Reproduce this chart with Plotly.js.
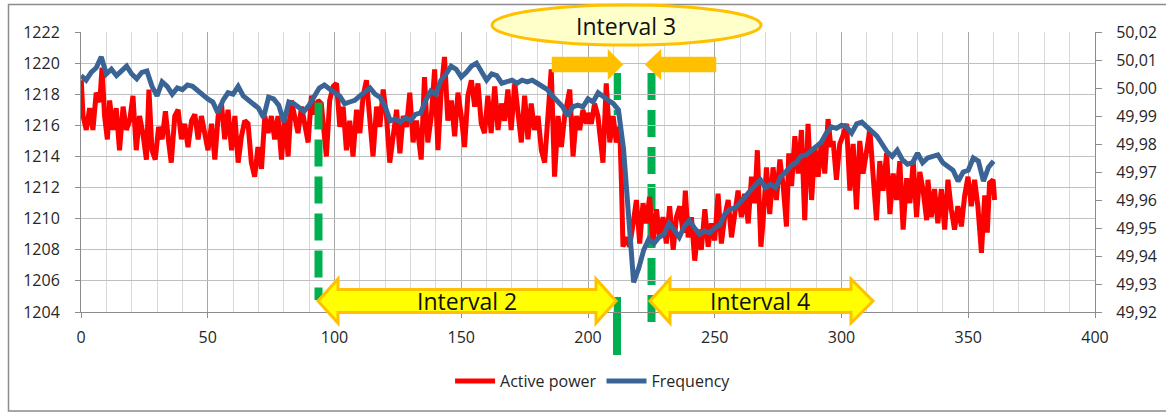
<!DOCTYPE html>
<html><head><meta charset="utf-8">
<script src="https://cdn.plot.ly/plotly-3.0.1.min.js"></script>
<style>html,body{margin:0;padding:0;background:#fff;overflow:hidden}#chart{width:1166px;height:414px}</style>
</head><body><div id="chart"></div>
<script>
// ---------------- DATA ----------------
const seriesNames = ['Active power', 'Frequency'];

const powerX = [
  0.1,0.8,2.1,3.4,4.7,6.0,7.4,8.3,9.3,10.4,11.3,12.6,13.9,15.2,16.6,17.9,19.2,20.5,21.8,23.1,
  24.4,25.8,26.8,28.0,29.3,30.6,32.0,33.3,34.6,35.6,37.0,38.3,39.6,40.9,42.2,43.6,44.9,46.2,47.5,48.8,
  50.1,51.5,52.8,54.1,55.4,56.7,58.0,59.4,60.7,62.0,63.3,64.6,65.9,67.2,68.5,69.8,71.2,72.5,73.8,75.1,
  76.4,77.7,79.1,80.4,81.7,83.0,84.3,85.6,87.0,88.3,89.6,90.9,92.2,93.5,94.8,96.8,98.1,99.5,100.8,102.1,
  103.4,104.7,106.0,107.3,108.7,110.0,111.3,112.6,113.9,115.2,116.6,117.9,119.2,120.5,121.8,123.1,124.5,125.8,127.1,128.4,
  129.7,131.0,132.3,134.2,135.5,136.8,138.2,139.5,140.8,142.1,143.4,144.7,146.1,147.4,148.7,150.0,151.3,152.6,154.0,155.3,
  156.6,157.9,159.2,160.5,161.8,163.2,164.5,165.8,167.1,168.4,169.7,171.1,172.4,173.7,175.0,176.3,177.6,178.9,180.3,181.6,
  182.9,184.2,185.5,186.8,188.2,189.5,190.8,192.8,194.1,195.4,196.7,198.0,199.3,200.0,201.3,202.6,203.9,205.9,207.2,208.6,
  209.9,211.2,212.5,213.2,213.8,215.1,216.4,217.8,219.1,220.4,221.7,223.0,224.3,225.7,227.0,228.3,229.6,230.9,232.2,233.6,
  234.9,236.2,237.5,238.4,239.5,240.8,242.1,243.4,244.7,246.1,247.4,248.7,250.0,251.3,252.6,253.9,255.3,256.6,257.9,259.2,
  260.5,261.8,263.2,264.5,265.8,266.8,268.2,269.1,270.4,271.7,273.0,274.3,275.7,277.0,278.3,279.2,280.3,281.6,282.9,284.2,
  285.5,286.8,288.2,289.5,290.8,292.1,293.4,294.7,295.8,296.7,298.0,299.3,300.7,302.0,303.3,304.6,305.9,307.2,308.5,309.9,
  311.2,312.5,313.8,315.1,316.4,317.8,319.1,320.4,321.7,323.0,324.3,325.7,327.0,328.3,329.6,330.9,332.2,333.6,334.1,335.4,
  336.7,338.0,339.4,340.7,342.0,343.3,344.6,345.9,347.3,348.6,349.9,351.2,352.5,353.8,355.2,356.5,357.5,358.4,359.8,360.4
];
const powerVals = [
  1218.9,1216.6,1215.7,1217.1,1215.7,1218.1,1217.5,1219.7,1216.6,1215.1,1217.6,1215.7,1217.1,1214.4,1217.2,1215.7,1216.3,1217.9,1214.4,1216.6,
  1215.5,1213.8,1218.3,1214.4,1213.8,1215.9,1215.1,1216.9,1214.9,1213.6,1216.6,1217.0,1215.1,1216.1,1214.6,1216.3,1216.7,1215.1,1216.6,1215.3,
  1214.4,1216.1,1213.8,1216.6,1217.4,1215.1,1217.0,1214.4,1216.6,1213.6,1215.3,1216.3,1216.1,1213.6,1212.7,1214.6,1213.2,1216.6,1215.5,1216.6,
  1215.1,1216.6,1213.8,1216.7,1214.0,1217.6,1216.6,1215.5,1217.2,1215.9,1214.9,1217.9,1216.7,1217.6,1217.4,1214.0,1217.6,1218.5,1218.7,1215.9,
  1217.2,1214.4,1216.3,1214.0,1217.0,1215.5,1217.9,1218.9,1216.1,1214.0,1217.2,1215.9,1218.3,1216.6,1213.6,1215.5,1217.0,1214.2,1216.6,1215.9,
  1218.1,1214.9,1216.3,1213.8,1219.1,1214.9,1216.6,1219.6,1214.4,1218.3,1220.4,1216.3,1217.6,1215.3,1218.1,1216.6,1214.6,1217.9,1218.9,1217.2,
  1218.7,1216.1,1215.5,1217.9,1215.5,1218.5,1215.7,1217.4,1216.3,1218.3,1215.7,1218.7,1216.6,1214.9,1217.9,1215.1,1217.4,1215.7,1216.6,1214.4,
  1213.6,1217.0,1219.6,1212.7,1216.6,1214.6,1216.6,1218.3,1214.0,1216.6,1215.7,1217.0,1216.1,1216.8,1216.1,1217.4,1216.6,1213.6,1218.7,1214.9,
  1216.6,1214.9,1215.9,1212.3,1208.2,1208.8,1208.2,1209.7,1211.2,1208.4,1211.0,1209.7,1211.4,1208.4,1210.6,1208.8,1210.1,1208.4,1210.8,1208.0,
  1210.1,1210.8,1209.1,1211.8,1208.8,1210.1,1207.3,1209.3,1208.0,1210.6,1208.2,1209.7,1208.6,1211.6,1208.4,1210.1,1211.2,1208.8,1210.6,1211.8,
  1210.1,1211.6,1209.7,1212.7,1211.0,1214.4,1208.2,1209.9,1213.3,1210.3,1213.3,1211.2,1213.8,1212.1,1209.5,1214.2,1212.1,1215.3,1212.9,1215.7,
  1209.9,1216.1,1211.2,1214.6,1212.7,1215.0,1212.9,1216.4,1214.6,1215.0,1212.5,1214.8,1215.4,1216.1,1211.8,1214.8,1210.6,1215.0,1212.9,1214.2,
  1215.7,1212.7,1209.9,1213.7,1211.8,1214.2,1210.3,1212.9,1211.2,1213.7,1209.3,1212.6,1211.0,1213.7,1210.1,1213.0,1211.8,1209.9,1212.5,1210.1,
  1211.9,1209.7,1211.9,1209.3,1212.5,1210.6,1209.3,1210.8,1209.5,1211.5,1212.7,1210.8,1212.5,1210.8,1207.8,1211.5,1209.1,1212.3,1212.5,1211.2
];

const freqX = [
  0,2,4,6,8,10,12,14,16,18,20,22,24,26,28,30,32,34,36,38,
  40,42,44,46,48,50,52,54,56,58,60,62,64,66,68,70,72,74,76,78,
  80,82,84,86,88,90,92,94,96,98,100,102,104,106,108,110,112,114,116,118,
  120,122,124,126,128,130,132,134,136,138,140,142,144,146,148,150,152,154,156,158,
  160,162,164,166,168,170,172,174,176,178,180,182,184,186,188,190,192,194,196,198,
  200,202,204,206,208,210,212,214,216,218,220,222,224,226,228,230,232,234,236,238,
  240,242,244,246,248,250,252,254,256,258,260,262,264,266,268,270,272,274,276,278,
  280,282,284,286,288,290,292,294,296,298,300,302,304,306,308,310,312,314,316,318,
  320,322,324,326,328,330,332,334,336,338,340,342,344,346,348,350,352,354,356,358,
  360
];
const freqVals = [
  50.0044,50.0028,50.0056,50.0072,50.0111,50.0050,50.0067,50.0044,50.0061,50.0078,50.0050,50.0033,50.0056,50.0061,50.0006,49.9972,50.0022,50.0006,49.9978,50.0000,
  49.9994,50.0011,50.0006,49.9989,49.9972,49.9961,49.9950,49.9911,49.9956,49.9983,49.9978,50.0006,49.9972,49.9956,49.9944,49.9928,49.9894,49.9967,49.9961,49.9939,
  49.9878,49.9950,49.9944,49.9933,49.9917,49.9939,49.9967,50.0000,50.0011,49.9994,49.9983,49.9972,49.9944,49.9950,49.9956,49.9972,49.9989,50.0000,49.9978,49.9967,
  49.9933,49.9883,49.9889,49.9878,49.9894,49.9883,49.9906,49.9911,49.9956,49.9989,49.9978,50.0028,50.0050,50.0078,50.0067,50.0039,50.0056,50.0078,50.0089,50.0061,
  50.0028,50.0050,50.0044,50.0017,50.0022,50.0028,50.0017,50.0028,50.0022,50.0028,50.0017,50.0006,49.9994,49.9972,49.9950,49.9933,49.9900,49.9933,49.9939,49.9933,
  49.9961,49.9950,49.9983,49.9967,49.9956,49.9944,49.9922,49.9783,49.9522,49.9306,49.9356,49.9422,49.9461,49.9444,49.9467,49.9478,49.9517,49.9489,49.9467,49.9506,
  49.9528,49.9500,49.9478,49.9489,49.9483,49.9500,49.9511,49.9550,49.9567,49.9572,49.9589,49.9611,49.9633,49.9656,49.9672,49.9644,49.9656,49.9644,49.9683,49.9700,
  49.9722,49.9733,49.9756,49.9761,49.9778,49.9789,49.9806,49.9839,49.9861,49.9856,49.9867,49.9861,49.9839,49.9872,49.9878,49.9861,49.9844,49.9828,49.9800,49.9772,
  49.9756,49.9778,49.9744,49.9728,49.9733,49.9767,49.9733,49.9750,49.9756,49.9761,49.9733,49.9717,49.9706,49.9667,49.9700,49.9706,49.9750,49.9739,49.9667,49.9717,
  49.9739
];

const xTickVals = [0, 50, 100, 150, 200, 250, 300, 350, 400];
const leftTickVals = [1204, 1206, 1208, 1210, 1212, 1214, 1216, 1218, 1220, 1222];
const rightTickVals = [49.92, 49.93, 49.94, 49.95, 49.96, 49.97, 49.98, 49.99, 50.00, 50.01, 50.02];
const rightTickText = ['49,92','49,93','49,94','49,95','49,96','49,97','49,98','49,99','50,00','50,01','50,02'];
const intervalLabels = ['Interval 2', 'Interval 3', 'Interval 4'];

// ---------------- LAYOUT HELPERS ----------------
// plot area: x px 81..1095, y px 32..312
const PX = px => (px - 81) / 2.535;       // pixel -> x data
const PY = py => (312 - py) / 280;        // pixel -> paper y

const FONT = 'Open Sans, Noto Sans, DejaVu Sans, sans-serif';
const GREEN = '#00B050', ORANGE = '#FFC000', YELLOW = '#FFFF00';

function dblArrow(leftTip, leftHeadEnd, rightHeadStart, rightTip, cy, headH, bodyH) {
  const a = PX(leftTip), b = PX(leftHeadEnd), c = PX(rightHeadStart), d = PX(rightTip);
  const m = PY(cy), ht = PY(cy - headH), hb = PY(cy + headH), bt = PY(cy - bodyH), bb = PY(cy + bodyH);
  return `M${a},${m} L${b},${ht} L${b},${bt} L${c},${bt} L${c},${ht} L${d},${m} L${c},${hb} L${c},${bb} L${b},${bb} L${b},${hb} Z`;
}
function arrowRight(start, headStart, tip, cy, headH, bodyH) {
  const a = PX(start), b = PX(headStart), c = PX(tip);
  return `M${a},${PY(cy-bodyH)} L${b},${PY(cy-bodyH)} L${b},${PY(cy-headH)} L${c},${PY(cy)} L${b},${PY(cy+headH)} L${b},${PY(cy+bodyH)} L${a},${PY(cy+bodyH)} Z`;
}
function arrowLeft(tip, headEnd, end, cy, headH, bodyH) {
  const a = PX(tip), b = PX(headEnd), c = PX(end);
  return `M${a},${PY(cy)} L${b},${PY(cy-headH)} L${b},${PY(cy-bodyH)} L${c},${PY(cy-bodyH)} L${c},${PY(cy+bodyH)} L${b},${PY(cy+bodyH)} L${b},${PY(cy+headH)} Z`;
}
function vseg(px, py0, py1, dash, layer) {
  return {type:'line', xref:'x', yref:'paper', x0:PX(px), x1:PX(px), y0:PY(py0), y1:PY(py1),
          line:{color:GREEN, width:8, dash: dash || 'solid'}, layer: layer || 'below'};
}

const shapes = [
  // outer frame
  {type:'rect', xref:'paper', yref:'paper', x0:(8.5-81)/1014, x1:(1175-81)/1014, y0:PY(411), y1:PY(4.5),
   line:{color:'#8C8C8C', width:1.5}, fillcolor:'rgba(0,0,0,0)', layer:'below'},
  // green dashed markers
  vseg(318.5, 102.5, 300, '27px,10px', 'above'),
  vseg(617, 73, 100), vseg(617, 110, 115), vseg(617, 297, 355),
  vseg(651.5, 73, 323, '27px,10px', 'below'),
  // yellow interval arrows
  {type:'path', xref:'x', yref:'paper', path: dblArrow(318, 338, 596, 616, 301, 22, 11.5),
   fillcolor:YELLOW, line:{color:ORANGE, width:3}, layer:'above'},
  {type:'path', xref:'x', yref:'paper', path: dblArrow(650, 670, 851, 873, 301, 22, 11.5),
   fillcolor:YELLOW, line:{color:ORANGE, width:3}, layer:'above'},
  // orange interval 3 arrows
  {type:'path', xref:'x', yref:'paper', path: arrowRight(552, 608, 623, 64.5, 15, 7.5),
   fillcolor:ORANGE, line:{color:ORANGE, width:0.5}, layer:'above'},
  {type:'path', xref:'x', yref:'paper', path: arrowLeft(645, 661, 716, 64.5, 15, 7.5),
   fillcolor:ORANGE, line:{color:ORANGE, width:0.5}, layer:'above'},
  // ellipse
  {type:'circle', xref:'x', yref:'paper', x0:PX(492), x1:PX(761), y0:PY(45), y1:PY(5),
   fillcolor:'#FFFFC9', line:{color:ORANGE, width:3}, layer:'above'}
];

const annFont = {family: FONT, size: 23, color: '#111111'};
const annotations = [
  {xref:'x', yref:'paper', x:PX(467), y:PY(301), text:intervalLabels[0], showarrow:false, font:annFont, xanchor:'center', yanchor:'middle'},
  {xref:'x', yref:'paper', x:PX(626), y:PY(26), text:intervalLabels[1], showarrow:false, font:annFont, xanchor:'center', yanchor:'middle'},
  {xref:'x', yref:'paper', x:PX(760), y:PY(301), text:intervalLabels[2], showarrow:false, font:annFont, xanchor:'center', yanchor:'middle'}
];

const tickFont = {family: FONT, size: 16, color: '#262626'};
const axisLine = '#8C8C8C';

const traces = [
  {x: powerX, y: powerVals, type:'scatter', mode:'lines', name: seriesNames[0],
   line:{color:'#FF0000', width:5}, yaxis:'y'},
  {x: freqX, y: freqVals, type:'scatter', mode:'lines', name: seriesNames[1],
   line:{color:'#3B6496', width:5}, yaxis:'y2'}
];

const layout = {
  width: 1166, height: 414,
  margin: {l:81, r:71, t:32, b:102, autoexpand:false},
  paper_bgcolor:'#ffffff', plot_bgcolor:'#ffffff',
  showlegend: true,
  legend: {orientation:'h', x:0.505, xanchor:'center', y:PY(381), yanchor:'middle',
           font:{family:FONT, size:16, color:'#262626'}, bgcolor:'rgba(0,0,0,0)', itemwidth:40, tracegroupgap:0},
  xaxis: {range:[0,400], tickvals:xTickVals, showgrid:true, gridcolor:'#A6A6A6', gridwidth:1,
          minor:{dtick:10, showgrid:true, gridcolor:'#D9D9D9', gridwidth:1, ticks:''},
          showline:true, linecolor:axisLine, linewidth:1, ticks:'outside', ticklen:5, tickcolor:axisLine,
          tickfont:tickFont, zeroline:false, ticklabelstandoff:6, fixedrange:true},
  yaxis: {range:[1204,1222], tickvals:leftTickVals, showgrid:true, gridcolor:'#BFBFBF', gridwidth:1,
          showline:true, linecolor:axisLine, linewidth:1, ticks:'outside', ticklen:5, tickcolor:axisLine,
          tickfont:tickFont, zeroline:false, ticklabelstandoff:12, fixedrange:true},
  yaxis2: {range:[49.92,50.02], overlaying:'y', side:'right', tickvals:rightTickVals, ticktext:rightTickText,
           showgrid:false, showline:true, linecolor:axisLine, linewidth:1, ticks:'outside', ticklen:6, tickcolor:axisLine,
           tickfont:tickFont, zeroline:false, ticklabelstandoff:11, fixedrange:true},
  shapes: shapes,
  annotations: annotations
};

Plotly.newPlot('chart', traces, layout, {staticPlot:true, displayModeBar:false, responsive:false});
</script>
</body></html>
